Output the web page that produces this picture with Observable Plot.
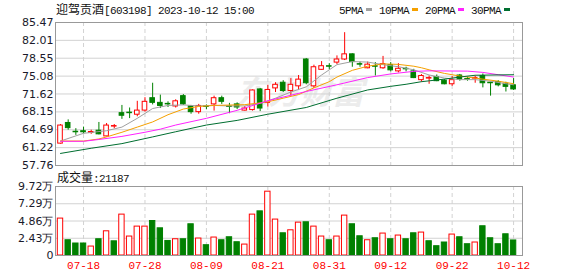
<!DOCTYPE html>
<html><head><meta charset="utf-8">
<script src="https://cdn.jsdelivr.net/npm/d3@7"></script>
<script src="https://cdn.jsdelivr.net/npm/@observablehq/plot@0.6"></script>
<style>
body{margin:0;background:#fff;}
#root{position:relative;width:578px;height:276px;overflow:hidden;background:#fff;font-family:"Noto Sans CJK SC",sans-serif;color:#111;}
.abs{position:absolute;white-space:nowrap;line-height:16px;font-size:12px;}
.mono{font-family:"Liberation Mono",monospace;font-size:11px;letter-spacing:-0.6px;}
.cjk{font-family:"Noto Sans CJK SC",sans-serif;font-size:12px;}
.plot{position:absolute;left:0;}
svg.vp text.xt{letter-spacing:-0.6px;}
</style></head><body><div id="root"></div>
<script>
// ---- data ----
const dates=["07-13","07-14","07-17","07-18","07-19","07-20","07-21","07-24","07-25","07-26","07-27","07-28","07-31","08-01","08-02","08-03","08-04","08-07","08-08","08-09","08-10","08-11","08-14","08-15","08-16","08-17","08-18","08-21","08-22","08-23","08-24","08-25","08-28","08-29","08-30","08-31","09-01","09-04","09-05","09-06","09-07","09-08","09-11","09-12","09-13","09-14","09-15","09-18","09-19","09-20","09-21","09-22","09-25","09-26","09-27","09-28","10-09","10-10","10-11","10-12"];
const open=[62.0,66.0,64.3,64.4,64.1,64.5,63.4,65.3,67.9,68.0,67.6,68.4,70.8,69.9,69.7,69.2,71.2,69.2,68.1,69.2,69.6,70.8,69.2,69.6,68.4,68.5,72.5,69.9,72.7,73.8,72.2,73.1,78.3,73.1,76.3,77.0,77.7,78.3,79.3,77.4,76.6,77.0,76.6,77.2,76.0,76.5,76.0,74.3,74.6,74.9,74.2,73.5,75.2,74.5,74.6,75.1,73.8,73.9,73.6,73.3];
const high=[65.7,66.6,64.9,65.2,64.6,66.1,65.9,65.7,69.4,68.9,70.2,70.9,73.7,71.4,70.1,70.5,71.5,69.4,69.6,69.5,71.2,71.2,69.8,69.9,69.2,72.4,72.7,73.3,73.8,74.2,74.6,75.2,78.5,77.2,77.9,77.5,79.0,83.5,79.4,77.8,77.8,77.7,78.9,77.7,77.5,76.8,76.4,75.4,75.1,75.3,74.4,75.0,75.4,74.8,75.1,75.5,73.9,74.2,73.9,74.6];
const low=[61.9,64.6,63.6,63.9,63.8,63.7,63.3,64.9,66.7,66.85,67.2,68.1,69.5,68.8,69.0,68.9,69.4,67.7,67.7,68.6,68.3,69.6,67.8,68.6,68.3,68.3,68.2,69.1,71.9,71.9,71.2,72.3,73.4,72.7,76.2,76.3,77.3,78.1,76.8,76.8,76.5,75.1,76.4,75.9,75.7,75.9,74.6,73.9,73.5,74.0,73.4,73.1,74.1,74.1,73.7,72.8,71.2,73.0,72.0,72.3];
const close=[65.5,65.0,64.2,64.2,64.25,63.8,65.5,65.4,67.4,67.9,68.4,70.1,69.9,69.3,69.6,70.2,69.6,68.1,69.3,69.1,70.8,70.1,69.1,69.0,68.8,72.3,68.8,72.4,73.4,72.2,73.4,74.4,73.7,76.8,77.0,76.9,78.3,79.3,77.8,77.3,77.3,76.9,77.4,76.2,76.5,76.4,74.7,75.1,74.7,74.1,73.5,74.3,74.4,74.4,74.7,73.7,73.7,73.3,73.0,72.5];
// volume in 万 (10k shares)
const volume=[5.2,2.15,1.69,1.69,1.26,2.29,3.41,2.0,5.76,2.67,4.07,4.07,4.86,3.83,2.05,2.29,2.29,4.40,2.39,1.45,2.53,2.15,2.57,1.87,1.54,5.76,6.22,8.99,5.06,3.13,3.55,4.63,4.68,4.07,2.67,2.15,2.67,5.62,4.40,2.71,2.15,2.43,3.09,2.29,2.81,2.29,3.13,3.23,2.01,1.31,1.83,2.95,2.57,1.59,1.83,4.12,2.43,1.59,2.99,2.12];
const volUp=[1,0,0,0,1,0,1,0,1,1,1,1,0,0,0,1,0,0,1,0,1,0,0,0,1,1,0,1,1,0,1,1,0,1,1,0,1,1,0,0,1,0,1,0,1,0,0,1,0,0,0,1,0,0,1,0,0,0,0,0];
// moving averages: [day index, value]
const ma5=[[0,62.5],[3,64.0],[6,64.5],[8,65.2],[10,66.9],[12,68.8],[14,69.4],[16,69.5],[18,69.3],[20,69.4],[22,69.3],[24,69.3],[26,69.8],[28,70.8],[30,72.0],[32,73.0],[34,75.3],[36,77.3],[38,77.9],[40,77.8],[42,77.3],[44,76.9],[46,76.3],[48,75.3],[50,74.7],[52,74.4],[54,74.4],[56,74.1],[58,73.6],[59,73.4]];
const ma10=[[0,62.5],[3,62.5],[5,62.9],[6,63.3],[8,64.2],[10,65.2],[12,66.2],[14,67.6],[16,68.7],[18,69.2],[20,69.4],[24,69.55],[26,69.9],[27,70.1],[29,70.8],[31,71.5],[33,72.8],[35,74.0],[36,74.9],[38,76.2],[40,77.0],[42,77.45],[44,77.35],[46,77.0],[47,76.7],[48,76.3],[50,75.6],[52,75.1],[55,74.5],[57,74.1],[59,73.6]];
const ma20=[[0,62.45],[3,62.45],[5,62.8],[8,63.4],[11,64.2],[13,64.8],[15,65.6],[19,66.9],[23,68.45],[27,70.3],[32,72.1],[36,73.4],[40,74.8],[43,75.5],[46,76.0],[48,76.1],[53,76.05],[55,75.8],[57,75.35],[59,74.9]];
const ma30=[[0,60.1],[4,61.1],[8,62.0],[12,63.3],[15,64.3],[19,65.6],[23,66.5],[27,67.7],[32,69.0],[36,70.8],[40,72.4],[43,73.1],[45,73.5],[47,74.0],[50,74.5],[52,74.9],[54,75.25],[59,75.35]];
const priceTicks=[57.76,61.22,64.69,68.15,71.62,75.08,78.55,82.01,85.47];
const volTicks=[0,2.43,4.86,7.29,9.72];
const xTickIdx=[3,11,19,27,35,43,51,59];
const maLabels=["5PMA","10PMA","20PMA","30PMA"];
const maColors=["#a0a0a0","#f5a000","#ff22ff","#006e30"];
const stockName="迎驾贡酒", stockCode="[603198] 2023-10-12 15:00";
const volTitle="成交量", lastVol=":21187";

// ---- layout ----
const RED="#ff0000", GREEN="#008000", GRID="#d2d2d2", FRAME="#999";
const root=document.getElementById("root");
function el(html, style){const d=document.createElement("div");d.className="abs";d.innerHTML=html;Object.assign(d.style,style);root.appendChild(d);return d;}

// watermark behind the price panel
el("东方财富",{left:"236px",top:"70px",fontSize:"32px",lineHeight:"40px",fontWeight:"700",fontStyle:"italic",color:"#ececec"});

const candles=dates.map((d,i)=>({i,o:open[i],h:high[i],l:low[i],c:close[i],up:close[i]>=open[i]}));
const vols=volume.map((v,i)=>({i,v,up:volUp[i]===1}));
const xDomain=[-0.651,60.16];

const price=Plot.plot({
  width:578,height:170,marginLeft:55,marginRight:56,marginTop:22,marginBottom:5,
  style:{background:"transparent",overflow:"visible"},
  x:{domain:xDomain,axis:null},
  y:{domain:[57.76,85.47],axis:null},
  color:{type:"identity"},
  marks:[
    Plot.gridY(priceTicks,{stroke:GRID,strokeOpacity:1}),
    Plot.gridX(xTickIdx,{stroke:GRID,strokeOpacity:1,strokeDasharray:"4,3"}),
    Plot.frame({stroke:FRAME}),
    Plot.axisY(priceTicks,{tickSize:0,tickPadding:2,label:null,tickFormat:d=>d.toFixed(2),fontSize:11,fontFamily:"DejaVu Sans",fill:"#1a1a2a"}),
    Plot.ruleX(candles,{x:"i",y1:"l",y2:"h",stroke:d=>d.up?RED:GREEN}),
    Plot.rect(candles,{x1:d=>d.i-0.3,x2:d=>d.i+0.3,y1:"o",y2:"c",fill:d=>d.up?"#fff":GREEN,stroke:d=>d.up?RED:GREEN}),
    Plot.line(ma5,{x:d=>d[0],y:d=>d[1],stroke:maColors[0],strokeWidth:1}),
    Plot.line(ma10,{x:d=>d[0],y:d=>d[1],stroke:maColors[1],strokeWidth:1}),
    Plot.line(ma20,{x:d=>d[0],y:d=>d[1],stroke:maColors[2],strokeWidth:1}),
    Plot.line(ma30,{x:d=>d[0],y:d=>d[1],stroke:maColors[3],strokeWidth:1})
  ]
});
price.classList.add("plot");price.style.top="0px";
root.appendChild(price);

const vol=Plot.plot({
  width:578,height:106,marginLeft:55,marginRight:56,marginTop:16,marginBottom:21,
  className:"vp",
  style:{background:"transparent",overflow:"visible"},
  x:{domain:xDomain,axis:null},
  y:{domain:[0,9.72],axis:null},
  color:{type:"identity"},
  marks:[
    Plot.gridY(volTicks,{stroke:GRID,strokeOpacity:1}),
    Plot.gridX(xTickIdx,{stroke:GRID,strokeOpacity:1,strokeDasharray:"4,3"}),
    Plot.rectY(vols,{x1:d=>d.i-0.35,x2:d=>d.i+0.35,y:"v",fill:d=>d.up?"#fff":GREEN,stroke:d=>d.up?RED:GREEN}),
    Plot.frame({stroke:FRAME}),
    Plot.axisY(volTicks,{tickSize:0,tickPadding:2,label:null,tickFormat:d=>d===0?"0":d.toFixed(2)+"万",fontSize:11,fontFamily:"DejaVu Sans",fill:"#1a1a2a"}),
    Plot.axisX(xTickIdx,{tickSize:0,tickPadding:6,label:null,tickFormat:i=>dates[i],fontSize:11,fontFamily:"Liberation Mono",fill:RED,className:"xt"})
  ]
});
vol.classList.add("plot");vol.style.top="170px";
root.appendChild(vol);

// title + legend + volume caption
el(`<span class="cjk">${stockName}</span><span class="mono">${stockCode}</span>`,{left:"56px",top:"1px"});
let lx=339;
maLabels.forEach((t,k)=>{
  el(`<span class="mono">${t}</span>`,{left:lx+"px",top:"1px"});
  const w=t.length*6;
  const sq=document.createElement("div");
  Object.assign(sq.style,{position:"absolute",left:(lx+w+3)+"px",top:"8px",width:"6px",height:"3px",background:maColors[k]});
  root.appendChild(sq);
  lx+=w+3+6+7;
});
el(`<span class="cjk">${volTitle}</span><span class="mono">${lastVol}</span>`,{left:"57px",top:"169px"});
</script></body></html>
